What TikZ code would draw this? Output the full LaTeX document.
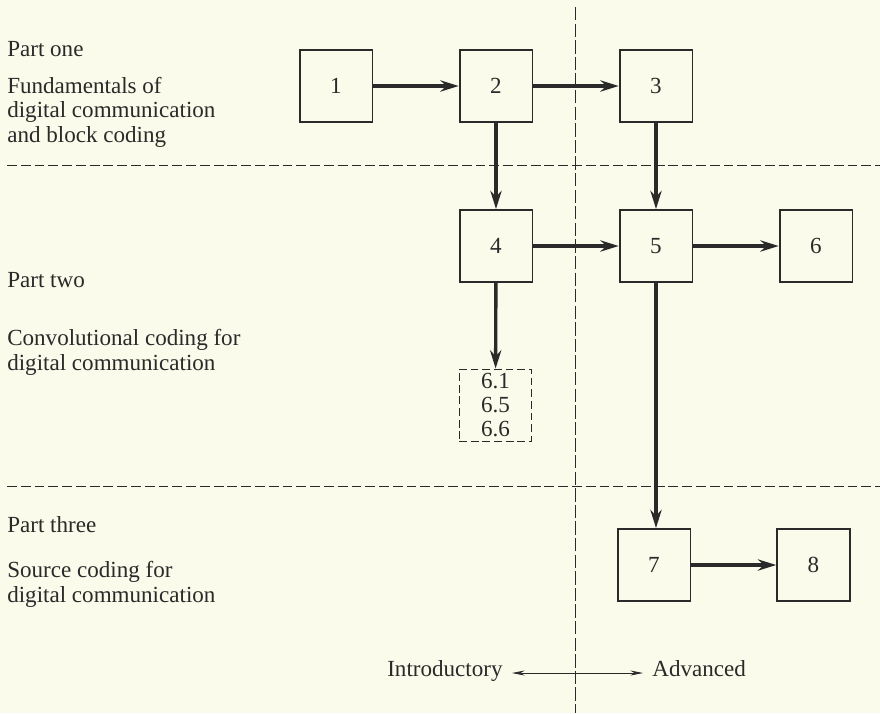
\documentclass[tikz,border=0pt]{standalone}
\usepackage{fontspec}
\setmainfont{Liberation Serif}
\usetikzlibrary{positioning,arrows.meta}
\definecolor{paper}{HTML}{FAFBEA}
\definecolor{ink}{HTML}{2A2A2A}

\begin{document}
\begin{tikzpicture}[x=0.025cm, y=-0.025cm,
  every node/.style={font=\fontsize{16.4}{17.4}\selectfont, text=ink},
  chap/.style={draw=ink, line width=1.3pt, minimum width=1.82cm, minimum height=1.8cm, inner sep=0pt},
  optchap/.style={chap, line width=0.7pt, dash pattern=on 5.5pt off 2.8pt, align=center, font=\fontsize{16.4}{17}\selectfont},
  flow/.style={draw=ink, line width=2.4pt, -{Stealth[length=13pt,width=8pt]}},
  divider/.style={draw=ink, line width=0.6pt},
  partlabel/.style={anchor=base west, align=left, inner sep=0pt},
  levellabel/.style={inner sep=6.5pt}]

\def\xa{336};
\def\xb{496};
\def\xc{656};
\def\xd{816};

\def\ya{86};
\def\yb{246};
\def\yc{405};
\def\yd{565};

\def\xv{575};
\def\yh{165};
\def\yi{486};

\fill[paper] (0,0) rectangle (880,713);
\useasboundingbox (0,0) rectangle (880,713);

\node[partlabel] (p1) at (7,56) {Part one};
\node[partlabel] (p1t) at (7,142) {Fundamentals of\\digital communication\\and block coding};
\node[partlabel] (p2) at (7,287) {Part two};
\node[partlabel] (p2t) at (7,370) {Convolutional coding for\\digital communication};
\node[partlabel] (p3) at (7,532) {Part three};
\node[partlabel] (p3t) at (7,602) {Source coding for\\digital communication};

\draw[divider, dash pattern=on 7pt off 2.8pt] (7,\yh) -- (880,\yh);
\draw[divider, dash pattern=on 7pt off 2.8pt] (7,\yi) -- (880,\yi);
\draw[divider, dash pattern=on 9.5pt off 2.3pt] (\xv,7) -- (\xv,713);

\node[chap] (b1) at (\xa,\ya) {1};
\node[chap] (b2) at (\xb,\ya) {2};
\node[chap] (b3) at (\xc,\ya) {3};
\node[chap] (b4) at (\xb,\yb) {4};
\node[chap] (b5) at (\xc,\yb) {5};
\node[chap] (b6) at (\xd,\yb) {6};
\node[optchap] (b6x) at (\xb - 0.5,\yc) {6.1\\6.5\\6.6};
\node[chap] (b7) at (\xc - 2,\yd) {7};
\node[chap] (b8) at (\xd - 2.5,\yd) {8};

\draw[flow] (b1) -- (b2);
\draw[flow] (b2) -- (b3);
\draw[flow] (b2) -- (b4);
\draw[flow] (b3) -- (b5);
\draw[flow] (b4) -- (b5);
\draw[flow] (b5) -- (b6);
\draw[flow] (b4) -- (b6x);
\draw[flow] (b5.south) -- (b5 |- b7.north);
\draw[flow] (b7) -- (b8);

\node[levellabel, anchor=mid east] (intro) at (512,673) {Introductory};
\node[levellabel, anchor=mid west] (adv) at (643,673) {Advanced};
\draw[draw=ink, line width=0.6pt, {Stealth[length=9pt,width=3.6pt]}-{Stealth[length=9pt,width=3.6pt]}] (intro.mid east) -- (adv.mid west);

\end{tikzpicture}
\end{document}
